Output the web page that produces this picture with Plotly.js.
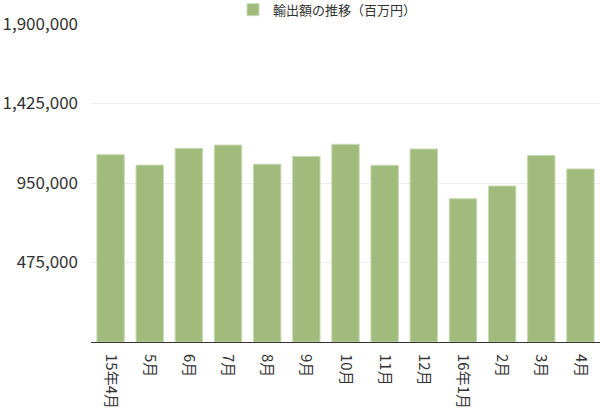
<!DOCTYPE html>
<html>
<head>
<meta charset="utf-8">
<script src="https://cdn.plot.ly/plotly-3.0.1.min.js"></script>
<style>html,body{margin:0;padding:0;background:#fff;}#chart{width:600px;height:412px;}</style>
</head>
<body>
<div id="chart"></div>
<script>
const categories = ["15年4月","5月","6月","7月","8月","9月","10月","11月","12月","16年1月","2月","3月","4月"];
const exportValues = [1119000,1057000,1157000,1177000,1062000,1109000,1181000,1056000,1153000,856000,932000,1115000,1034000];
const seriesName = "輸出額の推移（百万円）";
const yTickVals = [475000,950000,1425000,1900000];
const yTickText = ["475,000","950,000","1,425,000","1,900,000"];

const trace = {
  type: "bar",
  x: categories,
  y: exportValues,
  name: seriesName,
  showlegend: true,
  marker: {color: "rgb(160,187,124)", line: {color: "rgb(200,218,178)", width: 1}},
  hoverinfo: "x+y"
};

const layout = {
  width: 600, height: 412,
  margin: {l: 91, r: 0, t: 24, b: 70, pad: 0, autoexpand: false},
  paper_bgcolor: "#fff", plot_bgcolor: "#fff",
  font: {family: "'Noto Sans CJK JP', 'Noto Sans', sans-serif", color: "#333", size: 13},
  bargap: 0.3,
  showlegend: true,
  legend: {orientation: "h", x: 0.279, xanchor: "left", y: 1.045, yref: "paper", yanchor: "middle",
           font: {size: 13, color: "#333"}, bgcolor: "rgba(0,0,0,0)"},
  xaxis: {type: "category", tickangle: 90, ticks: "", showline: true, linecolor: "#333", linewidth: 1,
          showgrid: false, tickfont: {size: 15, color: "#333"}, ticklabelstandoff: 8, fixedrange: true},
  yaxis: {range: [0, 1900000], tickvals: yTickVals, ticktext: yTickText, ticks: "",
          showgrid: true, gridcolor: "#eeeeee", gridwidth: 1, zeroline: false, showline: false,
          tickfont: {size: 17, color: "#333"}, ticklabelstandoff: 12, fixedrange: true}
};

Plotly.newPlot("chart", [trace], layout, {displayModeBar: false, staticPlot: true});
</script>
</body>
</html>
